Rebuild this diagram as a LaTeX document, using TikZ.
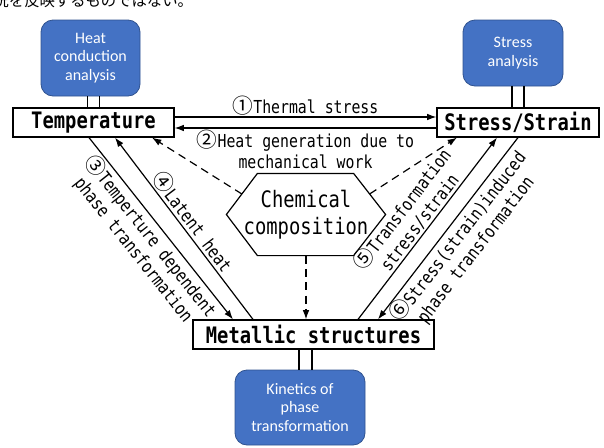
\documentclass[tikz,border=0pt]{standalone}
\usepackage{fontspec}
\setmainfont[FakeStretch=0.83]{DejaVu Sans Mono}
\newfontfamily\bluefont{Carlito}
\newfontfamily\jpfont{Noto Sans CJK JP}
\usetikzlibrary{arrows.meta,calc}
\definecolor{blueana}{HTML}{4472C4}
\definecolor{bluedark}{HTML}{2F528F}
\newcommand{\cnum}[1]{{\jpfont\fontsize{15.5}{16}\selectfont #1}}

\begin{document}
\begin{tikzpicture}[x=0.75pt,y=-0.75pt,line width=0.9pt,
	box/.style={draw,fill=white,inner sep=0pt,minimum height=21.75pt,font=\fontsize{17}{20}\selectfont\bfseries},
	task/.style={draw=bluedark,line width=0.6pt,fill=blueana,rounded corners=9pt,text=white,align=center,inner sep=0pt,font=\bluefont\fontsize{12}{14}\selectfont},
	lbl/.style={font=\fontsize{13.4}{16}\selectfont,align=center,inner sep=1pt},
	arr/.style={-{Latex[length=7pt,width=5pt]}},
	dsh/.style={arr,dash pattern=on 6pt off 4pt}]
	\useasboundingbox (0,0) rectangle (604,447);
	% page text cut by the crop
	\node[font=\jpfont\fontsize{11.5}{12}\selectfont,anchor=base west,inner sep=0pt] (note) at (-7,6) {況を反映するものではない。};
	% main boxes
	\node[box,minimum width=120.75pt] (temp) at (93.5,122.5) {Temperature};
	\node[box,minimum width=121.5pt] (stress) at (518,122.5) {Stress/Strain};
	\node[box,minimum width=180.75pt] (metal) at (313.5,334.5) {Metallic structures};
	\node[font=\fontsize{17}{20}\selectfont,align=center,minimum width=118.5pt,minimum height=60.75pt] (chem) at (306,214.5) {Chemical\\composition};
	\draw (chem.west) -- ($(chem.north west)+(31,0)$) -- ($(chem.north east)+(-32,0)$) -- (chem.east)
		-- ($(chem.south east)+(-32,0)$) -- ($(chem.south west)+(31,0)$) -- cycle;
	% analyses
	\node[task,minimum width=74.25pt,minimum height=57pt] (heat) at (90.5,58) {Heat\\conduction\\analysis};
	\node[task,minimum width=75pt,minimum height=49.5pt] (sana) at (513,53) {Stress\\analysis};
	\node[task,minimum width=97.5pt,minimum height=56.25pt] (kin) at (300,407.5) {Kinetics of\\phase\\transformation};
	\foreach \s in {-6,6}{
		\draw ($(temp.north)+(\s,0)$) -- ($(temp.north |- heat.south)+(\s,0)$);
		\draw ($(stress.north)+(\s,0)$) -- ($(stress.north |- sana.south)+(\s,0)$);
	}
	\foreach \s in {-14.5,-1.5}
		\draw ($(metal.south)+(\s,0)$) -- ($(metal.south |- kin.north)+(\s,0)$);
	% couplings
	\draw[arr] ($(temp.east)+(0,-5.5)$) -- node[lbl,above] (l1) {\cnum{①}Thermal stress} ($(stress.west)+(0,-5.5)$);
	\draw[arr] ($(stress.west)+(0,5.5)$) -- node[lbl,below] (l2) {\cnum{②}Heat generation due to\\mechanical work} ($(temp.east)+(0,5.5)$);
	\draw[arr] ($(temp.south)+(-4.5,0)$) -- node[lbl,sloped,below] (l3) {\cnum{③}Temperture dependent\\phase transformation} ($(metal.north)+(-80.5,0)$);
	\draw[arr] ($(metal.north)+(-60.5,0)$) -- node[lbl,sloped,above] (l4) {\cnum{④}Latent heat} ($(temp.south)+(21.5,0)$);
	\draw[arr] ($(metal.north)+(44.5,0)$) -- node[lbl,sloped,above] (l5) {\cnum{⑤}Transformation\\stress/strain} ($(stress.south)+(-21,0)$);
	\draw[arr] ($(stress.south)+(0,0)$) -- node[lbl,sloped,below] (l6) {\cnum{⑥}Stress(strain)induced\\phase transformation} ($(metal.north)+(64.5,0)$);
	% composition
	\draw[dsh] ($(chem.west)+(15.5,-20.5)$) -- ($(temp.south)+(58.5,0)$);
	\draw[dsh] ($(chem.east)+(-16,-20.5)$) -- ($(stress.south)+(-61,0)$);
	\draw[dsh] (chem.south) -- (chem.south |- metal.north);
\end{tikzpicture}
\end{document}
